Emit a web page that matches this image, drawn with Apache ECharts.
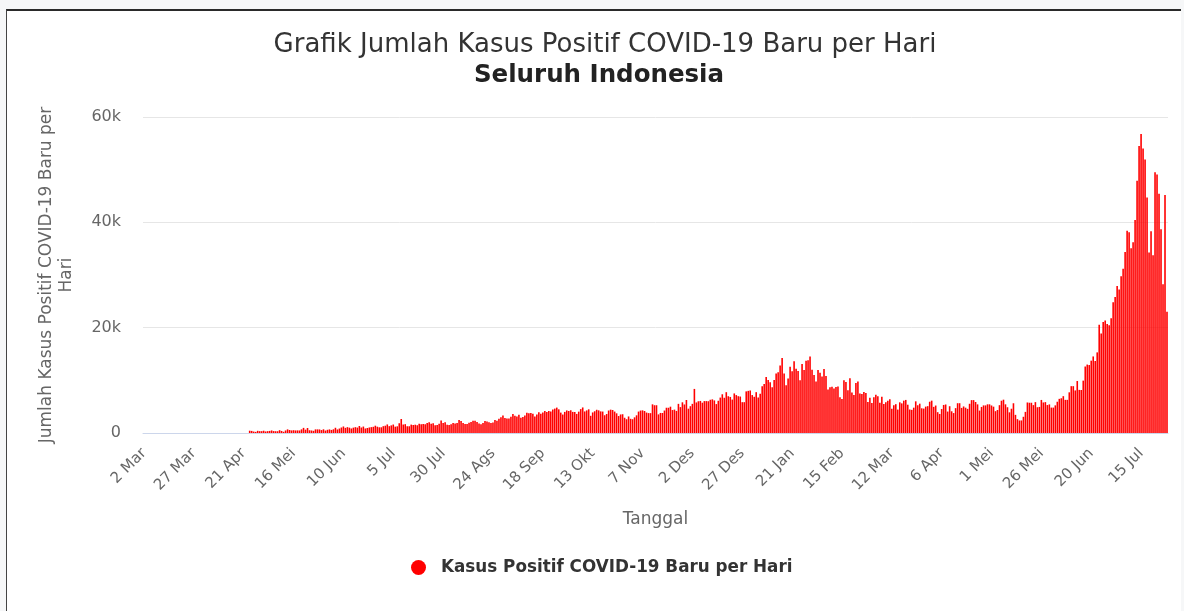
<!DOCTYPE html>
<html>
<head>
<meta charset="utf-8">
<script src="https://cdn.jsdelivr.net/npm/echarts@6/dist/echarts.min.js"></script>
<style>
html,body{margin:0;padding:0;background:#f6f7f8;width:1184px;height:611px;overflow:hidden;}
#frame{position:absolute;left:6px;top:9px;width:1174px;height:640px;background:#fff;border-top:2px solid #2a2a2a;border-left:1px solid #444;}
#chart{position:absolute;left:0;top:0;width:1184px;height:611px;}
</style>
</head>
<body>
<div id="frame"></div>
<div id="chart"></div>
<script>
// Daily new positive cases, 2 Mar 2020 .. 28 Jul 2021
const mar2020 = [0,0,0,0,0,0,0,0,0,0,0,0,0,0,0,0,0,0,0,0,0,0,0,0,0,0,0,0,0,0];
const apr2020 = [0,0,0,0,0,0,0,0,0,0,0,0,0,0,0,0,0,0,0,0,0,0,0,436,396,275,214,415,347,347];
const may2020 = [433,292,349,395,484,367,338,336,533,387,233,484,689,568,490,529,489,496,486,693,973,634,949,526,479,415,686,687,678,557,700];
const jun2020 = [467,609,684,585,703,993,672,847,1043,1241,979,1111,1014,857,1017,1106,1031,1331,1041,1226,862,954,1051,1113,1178,1385,1198,1082,1082,1293];
const jul2020 = [1385,1624,1301,1447,1607,1209,1268,1853,2657,1611,1681,1281,1282,1591,1522,1574,1462,1752,1639,1693,1655,1882,2040,1761,1868,1492,1525,1748,2381,1904,2040];
const aug2020 = [1560,1519,1679,1922,1815,1882,2473,2277,1893,1687,1693,1942,2098,2307,2345,2081,1821,1673,1902,2266,2197,2037,1877,2006,2447,2306,2719,3003,3308,2858,2743];
const sep2020 = [2775,3075,3622,3269,3128,3444,2880,3046,3307,3861,3737,3806,3636,3141,3507,3963,3635,3891,4168,3989,4176,4071,4465,4634,4823,4494,3874,3509,4002,4284];
const oct2020 = [4174,4317,4007,3992,3622,4056,4538,4850,4094,4294,4497,3267,3906,4127,4411,4301,4105,4070,3373,3602,4267,4432,4369,4070,3732,3222,3520,3565,2897,2617,3143];
const nov2020 = [2696,2618,2973,3356,4065,4262,4303,4173,3880,3779,3770,5444,5272,5272,3535,3807,3798,4265,4798,4792,4998,4360,4442,4192,5534,4917,5828,5418,6267,4617];
const dec2020 = [5092,5533,8369,5803,6027,6089,5754,6058,6058,6033,6310,6388,6189,5489,6120,6725,7354,6689,7751,6982,6848,6347,7514,7199,6986,6923,5854,5854,7903,8002,8074];
const jan2021 = [7203,6877,7753,6753,7445,8854,9321,10617,10046,9640,8692,10047,11278,11557,12818,14224,11287,9086,10365,12568,11703,13632,12191,11788,9994,13094,11948,13695,13802,14518,12001];
const feb2021 = [10994,9775,11984,11434,10724,12156,10827,8242,8700,8776,8435,8725,8844,6765,6462,10029,9687,8100,10400,7700,7200,9500,9775,7500,7400,7800,7600,5900];
const mar2021 = [6680,5712,6808,7264,6971,5767,6894,5498,5825,6114,6412,4607,5254,5473,4445,5825,5625,6144,6279,5371,4461,4396,4810,6012,5267,5570,4691,4638,5008,5096,5937];
const apr2021 = [6142,4964,5214,3955,3618,4549,5325,5414,4071,5085,4123,3785,4719,5656,5656,4765,5041,4805,4585,5549,6243,6243,5887,5436,4262,4952,5241,5241,5444,5444];
const may2021 = [5225,5000,4145,4369,5285,6130,6327,5444,4891,3922,4608,5647,3448,2633,2385,2385,3080,4012,5797,5746,5744,5296,5862,4891,4952,6278,5797,5862,5304,5427,4824];
const jun2021 = [4824,5246,5936,6486,6594,6993,6294,6294,7725,8892,8892,8083,9868,8189,8161,9944,12624,12990,12906,13737,14536,13668,15308,20574,18872,21095,21342,20694,20467,21807];
const jul2021 = [24836,25830,27913,27233,29745,31189,34379,38391,38124,35094,36197,40427,47899,54517,56757,54000,51952,44721,34257,38325,33772,49509,49071,45416,38679,28228,45203,23000];

const monthNames = ['Jan','Feb','Mar','Apr','Mei','Jun','Jul','Ags','Sep','Okt','Nov','Des'];
const startDate = [2020, 2, 2]; // 2 Mar 2020
const yTicks = [0, 20000, 40000, 60000];

const values = [].concat(mar2020, apr2020, may2020, jun2020, jul2020, aug2020, sep2020, oct2020,
  nov2020, dec2020, jan2021, feb2021, mar2021, apr2021, may2021, jun2021, jul2021);
const categories = values.map((v, i) => {
  const d = new Date(Date.UTC(startDate[0], startDate[1], startDate[2] + i));
  return d.getUTCDate() + ' ' + monthNames[d.getUTCMonth()];
});

const FONT = 'DejaVu Sans';
const chart = echarts.init(document.getElementById('chart'), null, {renderer: 'canvas'});
chart.setOption({
  animation: false,
  textStyle: {fontFamily: FONT},
  title: [
    {text: 'Grafik Jumlah Kasus Positif COVID-19 Baru per Hari', left: 600, top: 27, textAlign: 'center',
     textStyle: {fontFamily: FONT, fontSize: 26, fontWeight: 'normal', color: '#333'}},
    {text: 'Seluruh Indonesia', left: 594, top: 58, textAlign: 'center',
     textStyle: {fontFamily: FONT, fontSize: 24.5, fontWeight: 'bold', color: '#222'}}
  ],
  legend: {
    data: ['Kasus Positif COVID-19 Baru per Hari'],
    left: 406, top: 554, icon: 'circle', itemWidth: 15, itemHeight: 15, itemGap: 10,
    textStyle: {fontFamily: FONT, fontSize: 16.8, fontWeight: 'bold', color: '#333', padding: [0, 0, 0, 10]}
  },
  grid: {left: 143, right: 16, top: 117, bottom: 178, containLabel: false},
  xAxis: {
    type: 'category', data: categories, boundaryGap: true,
    name: 'Tanggal', nameLocation: 'middle', nameGap: 78,
    nameTextStyle: {fontFamily: FONT, fontSize: 17, color: '#666'},
    axisLine: {lineStyle: {color: '#ccd6eb', width: 1}},
    axisTick: {show: false},
    axisLabel: {interval: 24, rotate: 45, color: '#666', fontSize: 15, fontFamily: FONT, margin: 18}
  },
  yAxis: {
    type: 'value', min: yTicks[0], max: yTicks[yTicks.length - 1], interval: yTicks[1] - yTicks[0],
    name: 'Jumlah Kasus Positif COVID-19 Baru per\nHari', nameLocation: 'middle', nameGap: 66, nameRotate: 90,
    nameTextStyle: {fontFamily: FONT, fontSize: 17, color: '#666', lineHeight: 20},
    axisLine: {show: false}, axisTick: {show: false},
    splitLine: {lineStyle: {color: '#e6e6e6', width: 1}},
    axisLabel: {color: '#666', fontSize: 16, fontFamily: FONT, margin: 22,
      formatter: v => v === 0 ? '0' : (v / 1000) + 'k'}
  },
  series: [{
    name: 'Kasus Positif COVID-19 Baru per Hari', type: 'bar', data: values,
    barCategoryGap: '20%', itemStyle: {color: '#ff0000'}, large: false
  }]
});
</script>
</body>
</html>
